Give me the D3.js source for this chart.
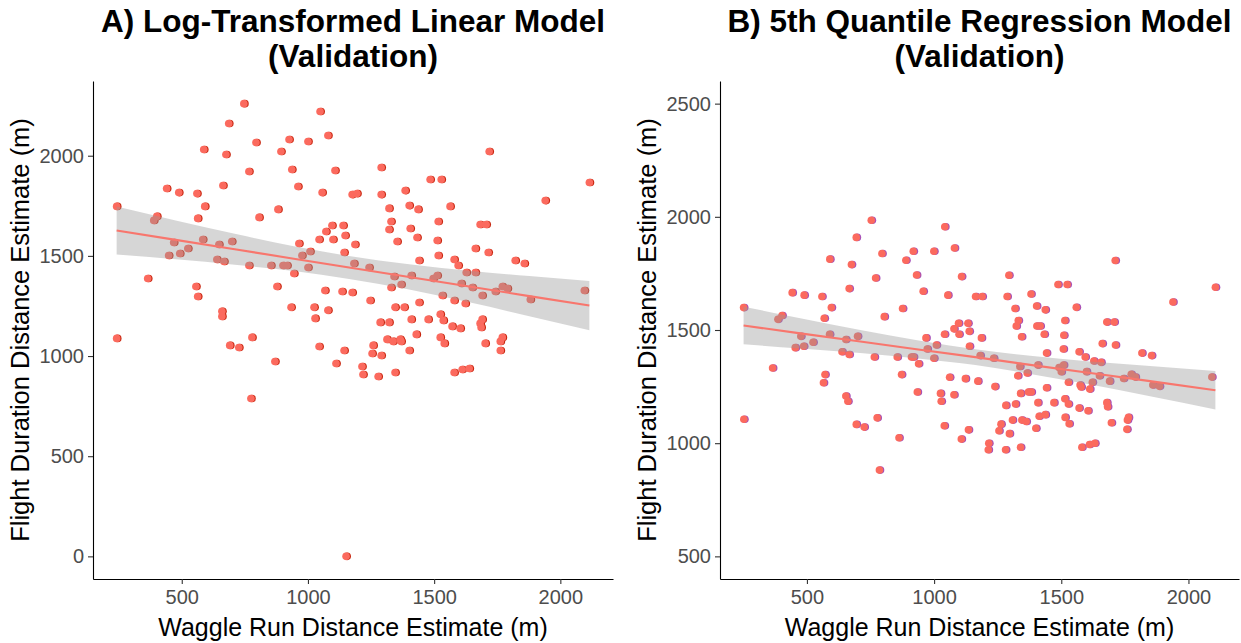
<!DOCTYPE html>
<html>
<head>
<meta charset="utf-8">
<script src="https://cdn.jsdelivr.net/npm/d3@7"></script>
<style>
  html, body { margin: 0; padding: 0; background: #fff; }
  svg { display: block; font-family: "Liberation Sans", Arial, sans-serif; }
</style>
</head>
<body>
<svg id="chart" width="1241" height="643"></svg>
<script>
// ---- Panel A: log-transformed linear model, validation set ----
const waggleA = [746,1048,686,587,675,794,925,1000,1079,893,766,936,1107,440,488,560,663,960,1056,591,242,881,401,389,563,806,1095,1139,1071,1099,1147,1044,964,468,583,647,698,524,448,492,639,667,766,853,901,917,976,1008,1000,944,1143,365,556,563,877,1067,1135,933,1024,1079,659,659,1028,242,690,726,778,1044,1143,1111,869,774,1151,1718,1290,1484,1528,2115,1940,1385,1175,1194,1290,1321,1401,1436,1563,1329,1321,1405,1516,1682,1706,1186,1353,1432,1512,1663,1714,1516,1440,1579,1821,1857,1182,1242,1595,1341,1409,1496,1512,1369,1329,1607,1627,1663,1651,1770,1790,1690,1742,1881,2095,1175,1246,1532,1579,1623,1440,1345,1381,1286,1321,1409,1476,1524,1536,1571,1603,1690,1682,1686,1429,1524,1540,1313,1337,1365,1369,1258,1254,1290,1401,1770,1762,1702,1762,1214,1218,1278,1345,1579,1611,1639];
const flightA = [2260,2221,2161,2031,2006,2066,2081,2071,2101,2021,1921,1931,1926,1836,1816,1811,1851,1846,1816,1747,1747,1732,1697,1677,1687,1692,1652,1652,1622,1582,1602,1582,1562,1567,1582,1557,1572,1537,1502,1512,1482,1472,1452,1452,1452,1452,1502,1522,1442,1412,1517,1387,1347,1297,1347,1327,1322,1243,1243,1228,1223,1198,1188,1088,1053,1043,1093,1048,1028,963,973,788,0,2021,1941,1881,1881,1866,1776,1826,1806,1811,1806,1737,1751,1732,1747,1672,1632,1637,1672,1657,1657,1557,1572,1592,1577,1537,1517,1502,1477,1482,1477,1462,1462,1442,1452,1397,1402,1387,1402,1357,1342,1362,1417,1417,1342,1347,1337,1302,1322,1282,1327,1317,1277,1302,1277,1262,1267,1243,1243,1168,1168,1183,1183,1208,1178,1148,1138,1183,1163,1143,1108,1093,1063,1083,1073,1083,1073,1053,1013,1003,1028,1093,1073,1063,1028,948,908,898,918,918,933,938];

// Fitted line and 95% confidence band, panel A
const bandAx  = [242, 476, 710, 944, 1163, 1401, 1639, 1877, 2115];
const bandAfit = [1627, 1580, 1533, 1486, 1442, 1395, 1347, 1299, 1252];
const bandAlo = [1507, 1483, 1456, 1424, 1385, 1332, 1268, 1199, 1129];
const bandAhi = [1747, 1677, 1610, 1548, 1499, 1458, 1426, 1399, 1375];

// ---- Panel B: 5th quantile regression model, validation set ----
const waggleB = [753,1042,694,795,918,999,1080,590,675,889,931,770,1108,666,957,442,489,559,1054,251,596,876,402,386,568,804,1096,1133,1078,1041,1098,476,589,699,968,1138,454,487,524,653,638,666,765,855,911,919,939,973,1009,999,1139,365,571,565,872,1061,1123,934,1025,1028,1078,653,661,252,776,694,725,1040,1135,862,1107,785,1712,1294,1487,1523,2106,1939,1381,1163,1189,1287,1318,1403,1437,1559,1331,1323,1514,1679,1708,1404,1417,1186,1344,1433,1510,1661,1713,1508,1442,1570,1594,1628,1656,1817,1855,1181,1234,1337,1408,1491,1509,1500,1599,1650,1690,1745,1775,1791,1860,1886,2092,1329,1366,1172,1239,1528,1574,1578,1622,1612,1442,1340,1371,1382,1282,1320,1408,1471,1514,1528,1570,1605,1679,1682,1308,1345,1362,1413,1437,1515,1531,1697,1764,1760,1758,1263,1255,1296,1400,1215,1213,1281,1340,1581,1611,1632];
const flightB = [1985,1956,1909,1838,1848,1848,1862,1813,1789,1808,1743,1730,1736,1683,1671,1665,1654,1648,1654,1599,1599,1595,1564,1547,1552,1559,1530,1530,1505,1481,1481,1472,1481,1472,1465,1494,1422,1428,1446,1458,1404,1392,1381,1381,1381,1381,1351,1416,1434,1375,1428,1332,1303,1267,1303,1291,1285,1226,1220,1185,1214,1208,1185,1106,1112,1083,1071,1077,1059,1024,1018,881,1807,1742,1701,1701,1689,1624,1659,1648,1648,1648,1595,1606,1589,1600,1542,1518,1542,1535,1535,1518,1518,1465,1470,1481,1477,1440,1434,1416,1398,1404,1381,1363,1357,1398,1387,1387,1375,1339,1345,1334,1345,1316,1316,1298,1274,1286,1304,1292,1257,1251,1292,1298,1310,1274,1250,1269,1257,1248,1269,1239,1245,1220,1226,1226,1167,1173,1179,1179,1196,1173,1155,1143,1179,1161,1102,1102,1096,1119,1126,1114,1086,1090,1114,1102,1061,1084,1055,1042,1066,1000,971,971,982,982,994,1000];

// Fitted line and 95% confidence band, panel B
const bandBx  = [251, 474, 710, 945, 1162, 1378, 1614, 1849, 2106];
const bandBfit = [1520, 1485, 1449, 1413, 1380, 1346, 1310, 1274, 1234];
const bandBlo = [1437, 1418, 1398, 1373, 1345, 1306, 1259, 1207, 1149];
const bandBhi = [1603, 1552, 1500, 1453, 1415, 1386, 1361, 1341, 1319];

// Axis breaks and limits
const xTicks  = [500, 1000, 1500, 2000];
const yTicksA = [0, 500, 1000, 1500, 2000];
const yTicksB = [500, 1000, 1500, 2000, 2500];
const yLimitsB = [500, 2500];

const xLabel = "Waggle Run Distance Estimate (m)";
const yLabel = "Flight Duration Distance Estimate (m)";

// ---- drawing ----
const svg = d3.select("#chart");
const TOP = 81, BOTTOM = 579;
const pointColor = "#FB6A5E";
const lineColor = "#F8766D";

// ggplot-style 5% expansion of a continuous range
function expand([a, b]) {
  const p = (b - a) * 0.05;
  return [a - p, b + p];
}

const panels = [
  { title: ["A) Log-Transformed Linear Model", "(Validation)"],
    xs: waggleA, ys: flightA,
    band: { x: bandAx, fit: bandAfit, lo: bandAlo, hi: bandAhi },
    yTicks: yTicksA, yLimits: null, left: 93, right: 613, rim: "#c8260f" },
  { title: ["B) 5th Quantile Regression Model", "(Validation)"],
    xs: waggleB, ys: flightB,
    band: { x: bandBx, fit: bandBfit, lo: bandBlo, hi: bandBhi },
    yTicks: yTicksB, yLimits: yLimitsB, left: 720, right: 1239, rim: "#a64fb8" }
];

panels.forEach(p => {
  const x = d3.scaleLinear()
    .domain(expand(d3.extent(p.xs)))
    .range([p.left, p.right]);
  const y = d3.scaleLinear()
    .domain(expand(p.yLimits ? p.yLimits : d3.extent(p.ys)))
    .range([BOTTOM, TOP]);

  const g = svg.append("g");
  const pts = p.xs.map((v, i) => [v, p.ys[i]]);

  // point layers: darker rim underneath, salmon on top
  g.append("g").selectAll("circle").data(pts).join("circle")
    .attr("cx", d => x(d[0]) + 1.1)
    .attr("cy", d => y(d[1]))
    .attr("r", 3.8)
    .attr("fill", p.rim);
  g.append("g").selectAll("circle").data(pts).join("circle")
    .attr("cx", d => x(d[0]))
    .attr("cy", d => y(d[1]))
    .attr("r", 3.8)
    .attr("fill", pointColor);

  // confidence ribbon and fitted line
  const b = p.band.x.map((v, i) => ({ x: v, fit: p.band.fit[i], lo: p.band.lo[i], hi: p.band.hi[i] }));
  g.append("path").datum(b)
    .attr("d", d3.area().curve(d3.curveMonotoneX)
      .x(d => x(d.x)).y0(d => y(d.lo)).y1(d => y(d.hi)))
    .attr("fill", "#999999").attr("fill-opacity", 0.4);
  g.append("path").datum(b)
    .attr("d", d3.line().x(d => x(d.x)).y(d => y(d.fit)))
    .attr("fill", "none").attr("stroke", lineColor).attr("stroke-width", 2.1);

  // axes
  const ax = g.append("g").attr("transform", `translate(0,${BOTTOM})`)
    .call(d3.axisBottom(x).tickValues(xTicks).tickFormat(d3.format("d"))
      .tickSize(5).tickSizeOuter(0).tickPadding(6));
  const ay = g.append("g").attr("transform", `translate(${p.left},0)`)
    .call(d3.axisLeft(y).tickValues(p.yTicks).tickFormat(d3.format("d"))
      .tickSize(5).tickSizeOuter(0).tickPadding(4));
  [ax, ay].forEach(a => {
    a.select(".domain").attr("stroke", "#000").attr("stroke-width", 1.1);
    a.selectAll(".tick line").attr("stroke", "#333").attr("stroke-width", 1.1);
    a.selectAll(".tick text").attr("fill", "#4d4d4d")
      .style("font-size", "20px").style("font-family", '"Liberation Sans", Arial, sans-serif');
  });

  const cx = (p.left + p.right) / 2;
  // two-line title
  g.append("text").attr("x", cx).attr("y", 31.5).attr("text-anchor", "middle")
    .style("font-size", "31.5px").style("font-weight", "bold").text(p.title[0]);
  g.append("text").attr("x", cx).attr("y", 67).attr("text-anchor", "middle")
    .style("font-size", "31.5px").style("font-weight", "bold").text(p.title[1]);
  // axis titles
  g.append("text").attr("x", cx).attr("y", 636).attr("text-anchor", "middle")
    .style("font-size", "25px").text(xLabel);
  g.append("text")
    .attr("transform", `translate(${p.left - 64},${(TOP + BOTTOM) / 2}) rotate(-90)`)
    .attr("text-anchor", "middle")
    .style("font-size", "25.5px").text(yLabel);
});
</script>
</body>
</html>
